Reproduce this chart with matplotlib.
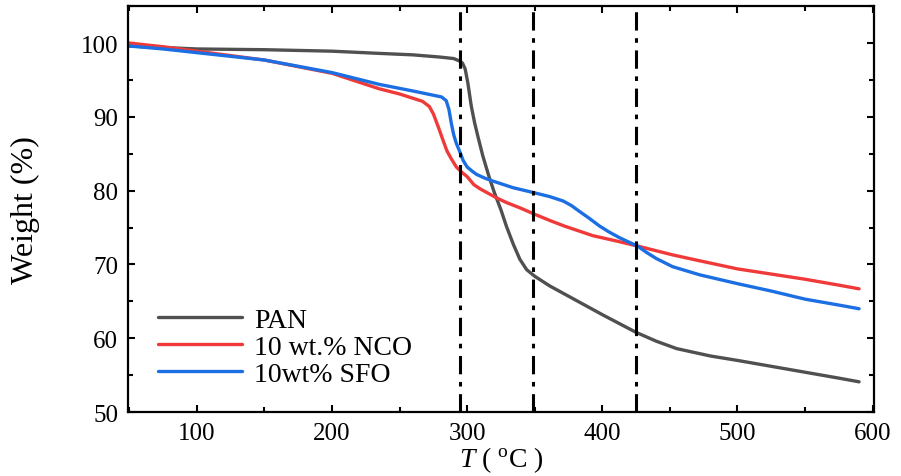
import matplotlib
matplotlib.use("Agg")
import matplotlib.pyplot as plt
from matplotlib.ticker import MultipleLocator

plt.rcParams['font.family'] = ['Liberation Serif', 'DejaVu Serif']
plt.rcParams['mathtext.fontset'] = 'custom'
plt.rcParams['mathtext.rm'] = 'Liberation Serif'
plt.rcParams['mathtext.it'] = 'Liberation Serif:italic'

pan_T = [50, 100, 150, 200, 235, 260, 280, 290, 294, 296.5, 298.5, 300.5, 303, 305.5, 308, 311.6,
         316, 320, 325, 329, 334, 339, 344, 350, 361, 378, 400, 425, 440, 455, 480, 500, 525,
         550, 575, 590]
pan_W = [99.6, 99.2, 99.1, 98.9, 98.6, 98.4, 98.1, 97.9, 97.6, 97.3, 96.5, 94.6, 91.5, 89.2, 87.3, 84.7,
         82.0, 79.8, 77.4, 75.2, 72.8, 70.7, 69.3, 68.4, 67.1, 65.4, 63.2, 60.8, 59.6, 58.6, 57.6, 57.0, 56.2,
         55.4, 54.6, 54.1]

nco_T = [50, 75, 100, 150, 200, 235, 250, 267, 272, 275, 278.5, 282, 285, 288, 292, 296, 300,
         305, 310, 316, 322, 329, 340, 350, 362, 372, 393, 410, 426, 452, 472, 500, 525, 550,
         575, 590]
nco_W = [100.0, 99.5, 98.9, 97.7, 95.9, 93.8, 93.1, 92.1, 91.4, 90.4, 88.7, 86.9, 85.4, 84.4, 83.2, 82.5, 81.9,
         80.8, 80.2, 79.6, 79.0, 78.4, 77.6, 76.8, 75.9, 75.2, 73.9, 73.2, 72.5, 71.3, 70.5, 69.4, 68.7, 68.0,
         67.2, 66.7]

sfo_T = [50, 75, 100, 150, 200, 235, 260, 281, 284.5, 286.5, 288.2, 290, 292, 294.3, 297, 300,
         304, 307, 313, 319, 334, 350, 361, 371, 377, 383, 390, 398, 405, 413, 420, 426, 433,
         440, 452, 472, 500, 525, 550, 575, 590]
sfo_W = [99.6, 99.2, 98.7, 97.7, 96.0, 94.4, 93.5, 92.7, 92.2, 91.0, 89.2, 87.6, 86.4, 85.4, 84.1, 83.2,
         82.6, 82.2, 81.7, 81.3, 80.4, 79.7, 79.2, 78.6, 78.0, 77.2, 76.3, 75.2, 74.4, 73.6, 73.0, 72.5, 71.6,
         70.8, 69.7, 68.6, 67.4, 66.4, 65.3, 64.5, 64.0]

vlines_T = [295, 349, 425]
labels = ['PAN', '10 wt.% NCO', '10wt% SFO']
colors = ['#505050', '#f03a3a', '#1c6fe3']

fig = plt.figure(figsize=(9.01, 4.77), dpi=100)
ax = fig.add_axes([0.142, 0.134, 0.828, 0.851])

for T, W, c, lab in zip([pan_T, nco_T, sfo_T], [pan_W, nco_W, sfo_W], colors, labels):
    ax.plot(T, W, color=c, lw=2.4, label=lab, solid_joinstyle='round', solid_capstyle='round')
for v in vlines_T:
    ax.axvline(v, color='black', lw=2.2, ls=(0, (6, 2.5, 1.5, 2.5)))

ax.set_xlim(49, 601)
ax.set_ylim(50, 105)
ax.xaxis.set_major_locator(MultipleLocator(100))
ax.xaxis.set_minor_locator(MultipleLocator(50))
ax.yaxis.set_major_locator(MultipleLocator(10))
ax.yaxis.set_minor_locator(MultipleLocator(5))
ax.tick_params(which='both', direction='in', top=True, right=True, width=1.5)
ax.tick_params(which='major', length=5, labelsize=18, pad=7)
ax.tick_params(which='minor', length=3.5)
for s in ax.spines.values():
    s.set_linewidth(1.6)

ax.set_ylabel('Weight (%)', fontsize=23)
ax.yaxis.set_label_coords(-0.118, 0.5)
ax.set_xlabel(r'$\mathit{T}$ ( $^{\rm o}$C )', fontsize=20, labelpad=0)

ax.legend(loc='lower left', bbox_to_anchor=(0.026, 0.035), frameon=False, fontsize=20,
          handlelength=3.0, handletextpad=0.45, labelspacing=0.05, borderaxespad=0)

fig.savefig('out.png', dpi=100)
